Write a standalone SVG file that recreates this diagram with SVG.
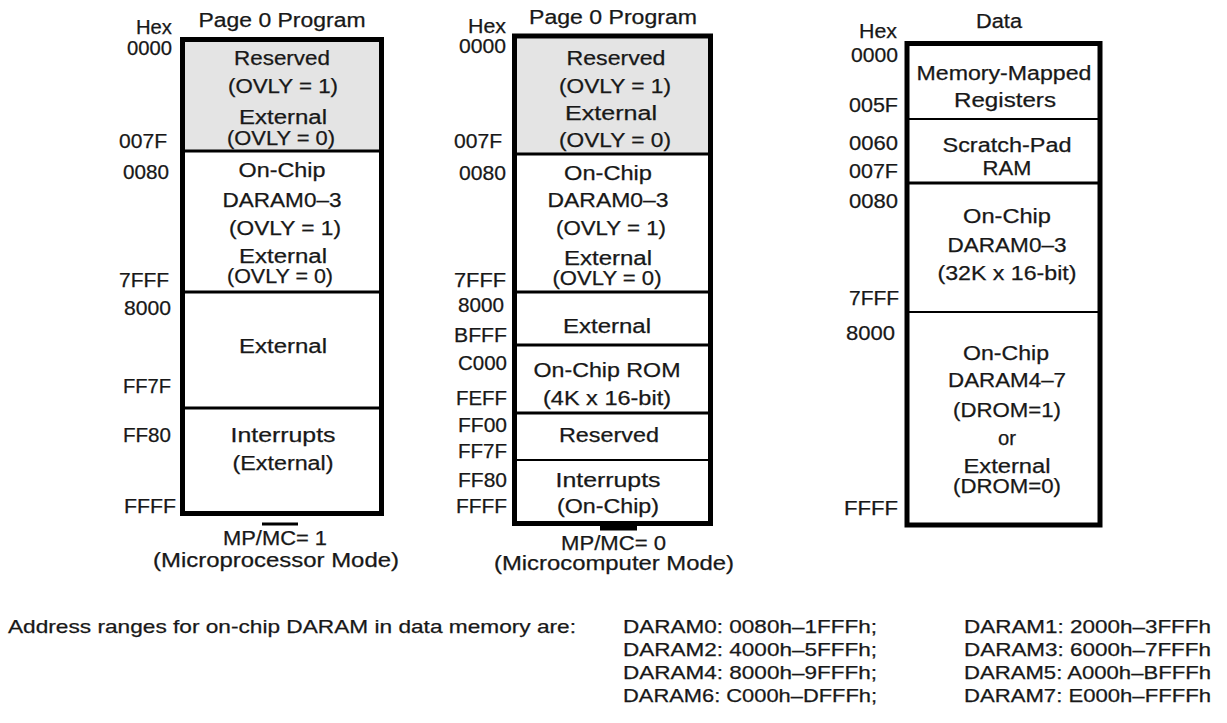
<svg xmlns="http://www.w3.org/2000/svg" width="1227" height="723" viewBox="0 0 1227 723">
<style>
  .t { font-family: "Liberation Sans", Arial, sans-serif; font-size: 20px; fill: #181818; stroke: #181818; stroke-width: 0.25; }
  .c { text-anchor: middle; }
  .b { font-size: 19px; }
  .box { fill: none; stroke: #000; stroke-width: 5; }
  .gray { fill: #e4e4e4; }
  .ln { stroke: #000; stroke-width: 3; }
  .ln2 { stroke: #000; stroke-width: 2; }
</style>

<g id="map-mp1">
  <rect class="gray" x="185" y="42" width="194" height="109"/>
  <line class="ln" x1="180" y1="151" x2="384" y2="151"/>
  <line class="ln" x1="180" y1="292" x2="384" y2="292"/>
  <line class="ln" x1="180" y1="408" x2="384" y2="408" stroke-width="2.5"/>
  <rect class="box" x="182.5" y="39.5" width="199" height="474"/>
  <rect x="262" y="522.5" width="36" height="3" fill="#000"/>
  <g class="t">
    <text x="136" y="34" textLength="36" lengthAdjust="spacingAndGlyphs">Hex</text>
    <text x="127" y="55" textLength="45" lengthAdjust="spacingAndGlyphs">0000</text>
    <text x="119" y="148" textLength="48" lengthAdjust="spacingAndGlyphs">007F</text>
    <text x="123" y="179" textLength="46" lengthAdjust="spacingAndGlyphs">0080</text>
    <text x="119" y="287" textLength="50" lengthAdjust="spacingAndGlyphs">7FFF</text>
    <text x="124" y="315" textLength="47" lengthAdjust="spacingAndGlyphs">8000</text>
    <text x="123" y="393" textLength="48" lengthAdjust="spacingAndGlyphs">FF7F</text>
    <text x="123" y="442" textLength="48" lengthAdjust="spacingAndGlyphs">FF80</text>
    <text x="124" y="513" textLength="52" lengthAdjust="spacingAndGlyphs">FFFF</text>
    <text class="c" x="282" y="27" textLength="167" lengthAdjust="spacingAndGlyphs">Page 0 Program</text>
    <text class="c" x="282" y="65" textLength="96" lengthAdjust="spacingAndGlyphs">Reserved</text>
    <text class="c" x="283" y="93" textLength="110" lengthAdjust="spacingAndGlyphs">(OVLY = 1)</text>
    <text class="c" x="283" y="124" textLength="88" lengthAdjust="spacingAndGlyphs">External</text>
    <text class="c" x="281" y="145" textLength="108" lengthAdjust="spacingAndGlyphs">(OVLY = 0)</text>
    <text class="c" x="282" y="177" textLength="87" lengthAdjust="spacingAndGlyphs">On-Chip</text>
    <text class="c" x="282" y="207" textLength="119" lengthAdjust="spacingAndGlyphs">DARAM0–3</text>
    <text class="c" x="285" y="235" textLength="112" lengthAdjust="spacingAndGlyphs">(OVLY = 1)</text>
    <text class="c" x="283" y="263" textLength="88" lengthAdjust="spacingAndGlyphs">External</text>
    <text class="c" x="280" y="283" textLength="106" lengthAdjust="spacingAndGlyphs">(OVLY = 0)</text>
    <text class="c" x="283" y="353" textLength="88" lengthAdjust="spacingAndGlyphs">External</text>
    <text class="c" x="283" y="442" textLength="105" lengthAdjust="spacingAndGlyphs">Interrupts</text>
    <text class="c" x="283" y="470" textLength="101" lengthAdjust="spacingAndGlyphs">(External)</text>
    <text x="223" y="545" textLength="104" lengthAdjust="spacingAndGlyphs">MP/MC= 1</text>
    <text class="c" x="276" y="567" textLength="246" lengthAdjust="spacingAndGlyphs">(Microprocessor Mode)</text>
  </g>
</g>

<g id="map-mp0">
  <rect class="gray" x="517" y="38.5" width="191" height="115.5"/>
  <line class="ln" x1="512" y1="154" x2="713" y2="154"/>
  <line class="ln" x1="512" y1="292" x2="713" y2="292"/>
  <line class="ln" x1="512" y1="345" x2="713" y2="345"/>
  <line class="ln" x1="512" y1="413" x2="713" y2="413"/>
  <line class="ln2" x1="512" y1="460" x2="713" y2="460"/>
  <rect class="box" x="514.5" y="36" width="196" height="487.5"/>
  <rect x="600" y="525" width="37" height="5.5" fill="#000"/>
  <g class="t">
    <text x="468" y="33" textLength="38" lengthAdjust="spacingAndGlyphs">Hex</text>
    <text x="459" y="53" textLength="47" lengthAdjust="spacingAndGlyphs">0000</text>
    <text x="454" y="148" textLength="48" lengthAdjust="spacingAndGlyphs">007F</text>
    <text x="459" y="180" textLength="47" lengthAdjust="spacingAndGlyphs">0080</text>
    <text x="454" y="287" textLength="52" lengthAdjust="spacingAndGlyphs">7FFF</text>
    <text x="458" y="312" textLength="46" lengthAdjust="spacingAndGlyphs">8000</text>
    <text x="454" y="342" textLength="53" lengthAdjust="spacingAndGlyphs">BFFF</text>
    <text x="458" y="370" textLength="49" lengthAdjust="spacingAndGlyphs">C000</text>
    <text x="456" y="405" textLength="51" lengthAdjust="spacingAndGlyphs">FEFF</text>
    <text x="458" y="432" textLength="49" lengthAdjust="spacingAndGlyphs">FF00</text>
    <text x="458" y="458" textLength="49" lengthAdjust="spacingAndGlyphs">FF7F</text>
    <text x="458" y="487" textLength="49" lengthAdjust="spacingAndGlyphs">FF80</text>
    <text x="456" y="513" textLength="51" lengthAdjust="spacingAndGlyphs">FFFF</text>
    <text class="c" x="613" y="24" textLength="168" lengthAdjust="spacingAndGlyphs">Page 0 Program</text>
    <text class="c" x="616" y="65" textLength="99" lengthAdjust="spacingAndGlyphs">Reserved</text>
    <text class="c" x="615" y="93" textLength="112" lengthAdjust="spacingAndGlyphs">(OVLY = 1)</text>
    <text class="c" x="611" y="120" textLength="92" lengthAdjust="spacingAndGlyphs">External</text>
    <text class="c" x="615" y="147" textLength="112" lengthAdjust="spacingAndGlyphs">(OVLY = 0)</text>
    <text class="c" x="608" y="180" textLength="88" lengthAdjust="spacingAndGlyphs">On-Chip</text>
    <text class="c" x="608" y="207" textLength="121" lengthAdjust="spacingAndGlyphs">DARAM0–3</text>
    <text class="c" x="611" y="235" textLength="110" lengthAdjust="spacingAndGlyphs">(OVLY = 1)</text>
    <text class="c" x="608" y="265" textLength="88" lengthAdjust="spacingAndGlyphs">External</text>
    <text class="c" x="607" y="285" textLength="109" lengthAdjust="spacingAndGlyphs">(OVLY = 0)</text>
    <text class="c" x="607" y="333" textLength="88" lengthAdjust="spacingAndGlyphs">External</text>
    <text class="c" x="607" y="377" textLength="147" lengthAdjust="spacingAndGlyphs">On-Chip ROM</text>
    <text class="c" x="607" y="405" textLength="128" lengthAdjust="spacingAndGlyphs">(4K x 16-bit)</text>
    <text class="c" x="609" y="442" textLength="100" lengthAdjust="spacingAndGlyphs">Reserved</text>
    <text class="c" x="608" y="487" textLength="105" lengthAdjust="spacingAndGlyphs">Interrupts</text>
    <text class="c" x="608" y="513" textLength="102" lengthAdjust="spacingAndGlyphs">(On-Chip)</text>
    <text x="561" y="550" textLength="105" lengthAdjust="spacingAndGlyphs">MP/MC= 0</text>
    <text class="c" x="614" y="570" textLength="240" lengthAdjust="spacingAndGlyphs">(Microcomputer Mode)</text>
  </g>
</g>

<g id="map-data">
  <line class="ln2" x1="905" y1="119" x2="1102" y2="119"/>
  <line class="ln" x1="905" y1="183" x2="1102" y2="183"/>
  <line class="ln2" x1="905" y1="312" x2="1102" y2="312"/>
  <rect class="box" x="907" y="43.5" width="193" height="481.5" stroke-width="5.5"/>
  <g class="t">
    <text x="859" y="38" textLength="38" lengthAdjust="spacingAndGlyphs">Hex</text>
    <text x="851" y="62" textLength="47" lengthAdjust="spacingAndGlyphs">0000</text>
    <text x="849" y="112" textLength="49" lengthAdjust="spacingAndGlyphs">005F</text>
    <text x="849" y="150" textLength="49" lengthAdjust="spacingAndGlyphs">0060</text>
    <text x="849" y="178" textLength="49" lengthAdjust="spacingAndGlyphs">007F</text>
    <text x="849" y="208" textLength="49" lengthAdjust="spacingAndGlyphs">0080</text>
    <text x="849" y="305" textLength="50" lengthAdjust="spacingAndGlyphs">7FFF</text>
    <text x="846" y="340" textLength="49" lengthAdjust="spacingAndGlyphs">8000</text>
    <text x="844" y="515" textLength="54" lengthAdjust="spacingAndGlyphs">FFFF</text>
    <text class="c" x="999" y="28" textLength="46" lengthAdjust="spacingAndGlyphs">Data</text>
    <text class="c" x="1004" y="80" textLength="175" lengthAdjust="spacingAndGlyphs">Memory-Mapped</text>
    <text class="c" x="1005" y="107" textLength="102" lengthAdjust="spacingAndGlyphs">Registers</text>
    <text class="c" x="1007" y="152" textLength="129" lengthAdjust="spacingAndGlyphs">Scratch-Pad</text>
    <text class="c" x="1007" y="175" textLength="49" lengthAdjust="spacingAndGlyphs">RAM</text>
    <text class="c" x="1007" y="223" textLength="88" lengthAdjust="spacingAndGlyphs">On-Chip</text>
    <text class="c" x="1007" y="252" textLength="119" lengthAdjust="spacingAndGlyphs">DARAM0–3</text>
    <text class="c" x="1007" y="280" textLength="139" lengthAdjust="spacingAndGlyphs">(32K x 16-bit)</text>
    <text class="c" x="1006" y="360" textLength="86" lengthAdjust="spacingAndGlyphs">On-Chip</text>
    <text class="c" x="1007" y="387" textLength="118" lengthAdjust="spacingAndGlyphs">DARAM4–7</text>
    <text class="c" x="1007" y="417" textLength="108" lengthAdjust="spacingAndGlyphs">(DROM=1)</text>
    <text class="c" x="1007" y="445" textLength="18" lengthAdjust="spacingAndGlyphs">or</text>
    <text class="c" x="1007" y="473" textLength="87" lengthAdjust="spacingAndGlyphs">External</text>
    <text class="c" x="1007" y="493" textLength="108" lengthAdjust="spacingAndGlyphs">(DROM=0)</text>
  </g>
</g>

<g id="daram-note" class="t b">
  <text x="8" y="633" textLength="568" lengthAdjust="spacingAndGlyphs">Address ranges for on-chip DARAM in data memory are:</text>
  <text x="623" y="633" textLength="254" lengthAdjust="spacingAndGlyphs">DARAM0: 0080h–1FFFh;</text>
  <text x="623" y="656" textLength="254" lengthAdjust="spacingAndGlyphs">DARAM2: 4000h–5FFFh;</text>
  <text x="623" y="679" textLength="254" lengthAdjust="spacingAndGlyphs">DARAM4: 8000h–9FFFh;</text>
  <text x="623" y="702" textLength="254" lengthAdjust="spacingAndGlyphs">DARAM6: C000h–DFFFh;</text>
  <text x="964" y="633" textLength="247" lengthAdjust="spacingAndGlyphs">DARAM1: 2000h–3FFFh</text>
  <text x="964" y="656" textLength="247" lengthAdjust="spacingAndGlyphs">DARAM3: 6000h–7FFFh</text>
  <text x="964" y="679" textLength="247" lengthAdjust="spacingAndGlyphs">DARAM5: A000h–BFFFh</text>
  <text x="964" y="702" textLength="247" lengthAdjust="spacingAndGlyphs">DARAM7: E000h–FFFFh</text>
</g>
</svg>
